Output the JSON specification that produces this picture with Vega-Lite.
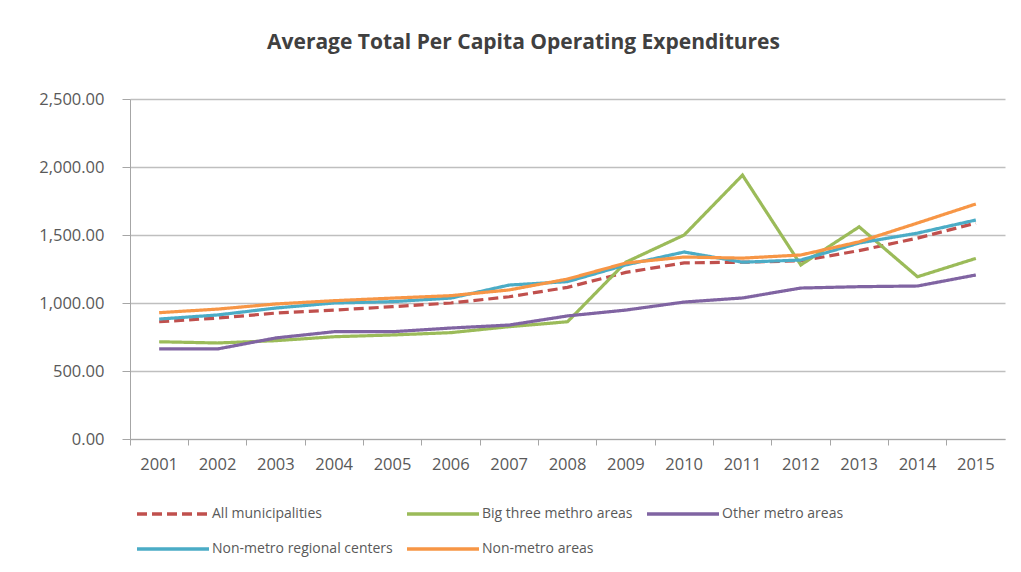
{
  "$schema": "https://vega.github.io/schema/vega-lite/v6.json",
  "width": 875,
  "height": 340,
  "autosize": {"type": "none"},
  "padding": {"left": 130, "top": 99, "right": 16, "bottom": 133},
  "background": "white",
  "title": {
    "text": "Average Total Per Capita Operating Expenditures",
    "font": "Open Sans",
    "fontSize": 21,
    "fontWeight": "bold",
    "color": "#404040",
    "anchor": "middle",
    "dx": -44,
    "offset": 38
  },
  "datasets": {
    "exp": [
      {"year": "2001", "series": "All municipalities", "value": 862},
      {"year": "2002", "series": "All municipalities", "value": 889},
      {"year": "2003", "series": "All municipalities", "value": 926},
      {"year": "2004", "series": "All municipalities", "value": 948},
      {"year": "2005", "series": "All municipalities", "value": 973},
      {"year": "2006", "series": "All municipalities", "value": 1000},
      {"year": "2007", "series": "All municipalities", "value": 1046},
      {"year": "2008", "series": "All municipalities", "value": 1115},
      {"year": "2009", "series": "All municipalities", "value": 1225},
      {"year": "2010", "series": "All municipalities", "value": 1295},
      {"year": "2011", "series": "All municipalities", "value": 1300},
      {"year": "2012", "series": "All municipalities", "value": 1310},
      {"year": "2013", "series": "All municipalities", "value": 1385},
      {"year": "2014", "series": "All municipalities", "value": 1477},
      {"year": "2015", "series": "All municipalities", "value": 1588},
      {"year": "2001", "series": "Big three methro areas", "value": 715},
      {"year": "2002", "series": "Big three methro areas", "value": 706},
      {"year": "2003", "series": "Big three methro areas", "value": 723},
      {"year": "2004", "series": "Big three methro areas", "value": 752},
      {"year": "2005", "series": "Big three methro areas", "value": 765},
      {"year": "2006", "series": "Big three methro areas", "value": 782},
      {"year": "2007", "series": "Big three methro areas", "value": 826},
      {"year": "2008", "series": "Big three methro areas", "value": 862},
      {"year": "2009", "series": "Big three methro areas", "value": 1300},
      {"year": "2010", "series": "Big three methro areas", "value": 1500},
      {"year": "2011", "series": "Big three methro areas", "value": 1940},
      {"year": "2012", "series": "Big three methro areas", "value": 1280},
      {"year": "2013", "series": "Big three methro areas", "value": 1560},
      {"year": "2014", "series": "Big three methro areas", "value": 1193},
      {"year": "2015", "series": "Big three methro areas", "value": 1328},
      {"year": "2001", "series": "Other metro areas", "value": 662},
      {"year": "2002", "series": "Other metro areas", "value": 662},
      {"year": "2003", "series": "Other metro areas", "value": 743},
      {"year": "2004", "series": "Other metro areas", "value": 789},
      {"year": "2005", "series": "Other metro areas", "value": 789},
      {"year": "2006", "series": "Other metro areas", "value": 816},
      {"year": "2007", "series": "Other metro areas", "value": 838},
      {"year": "2008", "series": "Other metro areas", "value": 905},
      {"year": "2009", "series": "Other metro areas", "value": 948},
      {"year": "2010", "series": "Other metro areas", "value": 1007},
      {"year": "2011", "series": "Other metro areas", "value": 1037},
      {"year": "2012", "series": "Other metro areas", "value": 1110},
      {"year": "2013", "series": "Other metro areas", "value": 1120},
      {"year": "2014", "series": "Other metro areas", "value": 1125},
      {"year": "2015", "series": "Other metro areas", "value": 1206},
      {"year": "2001", "series": "Non-metro regional centers", "value": 882},
      {"year": "2002", "series": "Non-metro regional centers", "value": 912},
      {"year": "2003", "series": "Non-metro regional centers", "value": 963},
      {"year": "2004", "series": "Non-metro regional centers", "value": 1000},
      {"year": "2005", "series": "Non-metro regional centers", "value": 1010},
      {"year": "2006", "series": "Non-metro regional centers", "value": 1036},
      {"year": "2007", "series": "Non-metro regional centers", "value": 1132},
      {"year": "2008", "series": "Non-metro regional centers", "value": 1157},
      {"year": "2009", "series": "Non-metro regional centers", "value": 1280},
      {"year": "2010", "series": "Non-metro regional centers", "value": 1375},
      {"year": "2011", "series": "Non-metro regional centers", "value": 1300},
      {"year": "2012", "series": "Non-metro regional centers", "value": 1316},
      {"year": "2013", "series": "Non-metro regional centers", "value": 1441},
      {"year": "2014", "series": "Non-metro regional centers", "value": 1514},
      {"year": "2015", "series": "Non-metro regional centers", "value": 1610},
      {"year": "2001", "series": "Non-metro areas", "value": 929},
      {"year": "2002", "series": "Non-metro areas", "value": 955},
      {"year": "2003", "series": "Non-metro areas", "value": 993},
      {"year": "2004", "series": "Non-metro areas", "value": 1017},
      {"year": "2005", "series": "Non-metro areas", "value": 1036},
      {"year": "2006", "series": "Non-metro areas", "value": 1054},
      {"year": "2007", "series": "Non-metro areas", "value": 1096},
      {"year": "2008", "series": "Non-metro areas", "value": 1176},
      {"year": "2009", "series": "Non-metro areas", "value": 1294},
      {"year": "2010", "series": "Non-metro areas", "value": 1338},
      {"year": "2011", "series": "Non-metro areas", "value": 1330},
      {"year": "2012", "series": "Non-metro areas", "value": 1353},
      {"year": "2013", "series": "Non-metro areas", "value": 1450},
      {"year": "2014", "series": "Non-metro areas", "value": 1588},
      {"year": "2015", "series": "Non-metro areas", "value": 1728}
    ]
  },
  "data": {"name": "exp"},
  "mark": {"type": "line", "strokeWidth": 3.2, "strokeCap": "butt"},
  "encoding": {
    "x": {
      "field": "year",
      "type": "ordinal",
      "scale": {"type": "band", "paddingInner": 0, "paddingOuter": 0},
      "axis": {
        "title": null,
        "labelAngle": 0,
        "labelFont": "Open Sans",
        "labelFontSize": 16.5,
        "labelColor": "#595959",
        "labelPadding": 11,
        "domainColor": "#A6A6A6",
        "tickColor": "#A6A6A6",
        "tickSize": 6,
        "bandPosition": 0,
        "grid": false
      }
    },
    "y": {
      "field": "value",
      "type": "quantitative",
      "scale": {"domain": [0, 2500], "nice": false},
      "axis": {
        "title": null,
        "values": [0, 500, 1000, 1500, 2000, 2500],
        "format": ",.2f",
        "labelFont": "Open Sans",
        "labelFontSize": 16.5,
        "labelColor": "#595959",
        "labelPadding": 18,
        "tickSize": 8,
        "tickColor": "#A6A6A6",
        "domainColor": "#A6A6A6",
        "gridColor": "#BFBFBF",
        "gridWidth": 1.5
      }
    },
    "color": {
      "field": "series",
      "type": "nominal",
      "scale": {
        "domain": ["All municipalities", "Big three methro areas", "Other metro areas", "Non-metro regional centers", "Non-metro areas"],
        "range": ["#C0504D", "#9BBB59", "#8064A2", "#4BACC6", "#F79646"]
      },
      "legend": {
        "title": null,
        "orient": "bottom",
        "direction": "horizontal",
        "columns": 3,
        "offset": 25,
        "padding": 5,
        "symbolType": "M-4,0H4",
        "symbolSize": 324,
        "symbolStrokeWidth": 3.5,
        "symbolOffset": 27,
        "labelFont": "Open Sans",
        "labelFontSize": 14,
        "labelColor": "#595959",
        "labelOffset": 28,
        "labelLimit": 400,
        "rowPadding": 17,
        "columnPadding": 7
      }
    },
    "strokeDash": {
      "field": "series",
      "type": "nominal",
      "scale": {
        "domain": ["All municipalities", "Big three methro areas", "Other metro areas", "Non-metro regional centers", "Non-metro areas"],
        "range": [[10, 5], [1, 0], [1, 0], [1, 0], [1, 0]]
      },
      "legend": null
    },
    "order": {"field": "series"}
  },
  "config": {
    "view": {"stroke": null},
    "font": "Open Sans"
  }
}
